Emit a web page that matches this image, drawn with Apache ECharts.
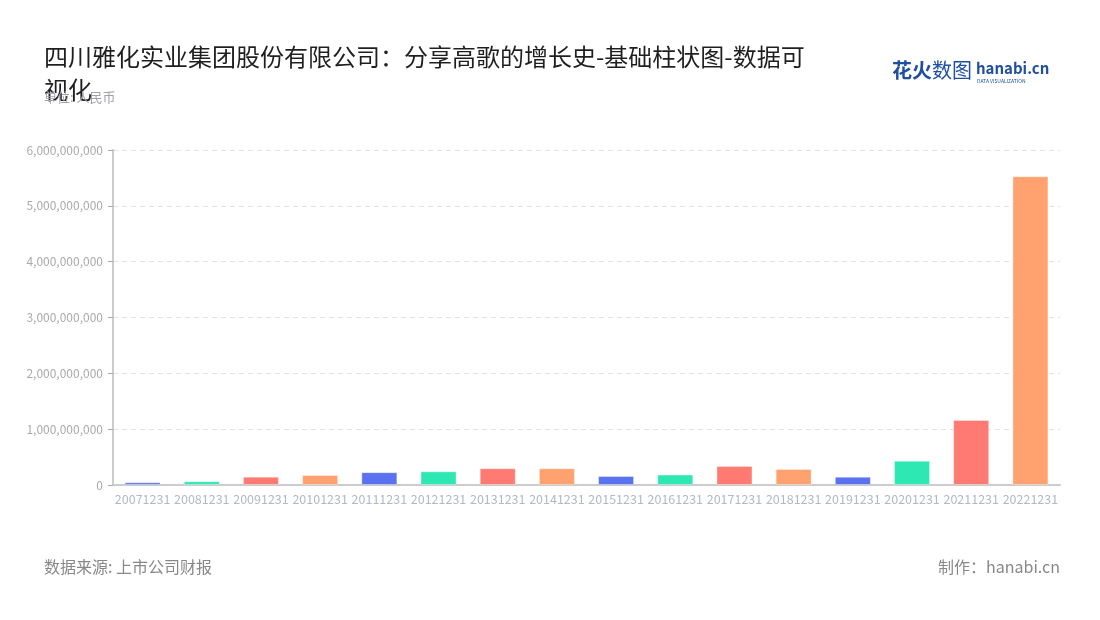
<!DOCTYPE html>
<html><head><meta charset="utf-8">
<script src="https://cdn.jsdelivr.net/npm/echarts@6/dist/echarts.min.js"></script>
<style>html,body{margin:0;padding:0;background:#fff}#c{width:1100px;height:620px}</style>
</head><body><div id="c"></div>
<script>
const categories = ['20071231','20081231','20091231','20101231','20111231','20121231','20131231','20141231','20151231','20161231','20171231','20181231','20191231','20201231','20211231','20221231'];
const values = [48000000,66000000,150000000,180000000,230000000,245000000,300000000,300000000,160000000,186000000,340000000,287000000,148000000,435000000,1164000000,5530000000];
const palette = ['#5a72ef','#2ee8b3','#ff7a73','#ffa26f'];
const titleText = '四川雅化实业集团股份有限公司：分享高歌的增长史-基础柱状图-数据可视化';
const unitText = '单位: 人民币';
const sourceText = '数据来源: 上市公司财报';
const makerText = '制作：hanabi.cn';

const font = '"Noto Sans CJK SC","Noto Sans",sans-serif';
const chart = echarts.init(document.getElementById('c'));
chart.setOption({
  animation: false,
  textStyle: {fontFamily: font},
  title: [
    {text: titleText, left: 39, top: 35, textStyle: {fontSize: 24, fontWeight: 'normal', color: '#1f1f1f', width: 775, overflow: 'break', lineHeight: 33, fontFamily: font}},
    {text: unitText, left: 39, top: 86, textStyle: {fontSize: 13, fontWeight: 'normal', color: '#a0a0a8', fontFamily: font}},
    {text: sourceText, left: 39, top: 554, textStyle: {fontSize: 16, fontWeight: 'normal', color: '#888', fontFamily: font}},
    {text: makerText, right: 35, top: 554, textStyle: {fontSize: 16, fontWeight: 'normal', color: '#888', fontFamily: font}}
  ],
  graphic: [
    {type: 'text', left: 892, top: 60, style: {text: '花火', fontSize: 20, fontWeight: 'bold', fill: '#1f4fa0', fontFamily: font}},
    {type: 'text', left: 932, top: 60, style: {text: '数图', fontSize: 20, fill: '#1f4fa0', fontFamily: font}},
    {type: 'text', left: 976, top: 61, style: {text: 'hanabi.cn', fontSize: 15, fontWeight: 'bold', fill: '#1f4fa0', fontFamily: font}},
    {type: 'text', left: 977, top: 79, style: {text: 'DATA VISUALIZATION', fontSize: 5, fill: '#1f4fa0', fontFamily: font}}
  ],
  grid: {left: 113, right: 40, top: 150, bottom: 135, containLabel: false},
  xAxis: {
    type: 'category', data: categories,
    axisLine: {lineStyle: {color: '#cccccc', width: 2}},
    axisTick: {alignWithLabel: true, lineStyle: {color: '#aaa'}},
    axisLabel: {interval: 0, color: '#b4b8c6', fontSize: 12.5, margin: 8}
  },
  yAxis: {
    type: 'value', min: 0, max: 6000000000, interval: 1000000000,
    axisLine: {show: true, lineStyle: {color: '#cccccc', width: 2}},
    axisTick: {show: true, lineStyle: {color: '#aaa'}},
    axisLabel: {color: '#aaaaaa', fontSize: 12, margin: 10, formatter: v => v.toLocaleString('en-US')},
    splitLine: {lineStyle: {color: '#e2e2e2', type: [5, 4]}}
  },
  series: [{
    type: 'bar', data: values, barWidth: 36,
    itemStyle: {color: p => palette[p.dataIndex % 4], borderWidth: 1, borderColor: 'rgba(255,255,255,0.35)'}
  }]
});
</script></body></html>
